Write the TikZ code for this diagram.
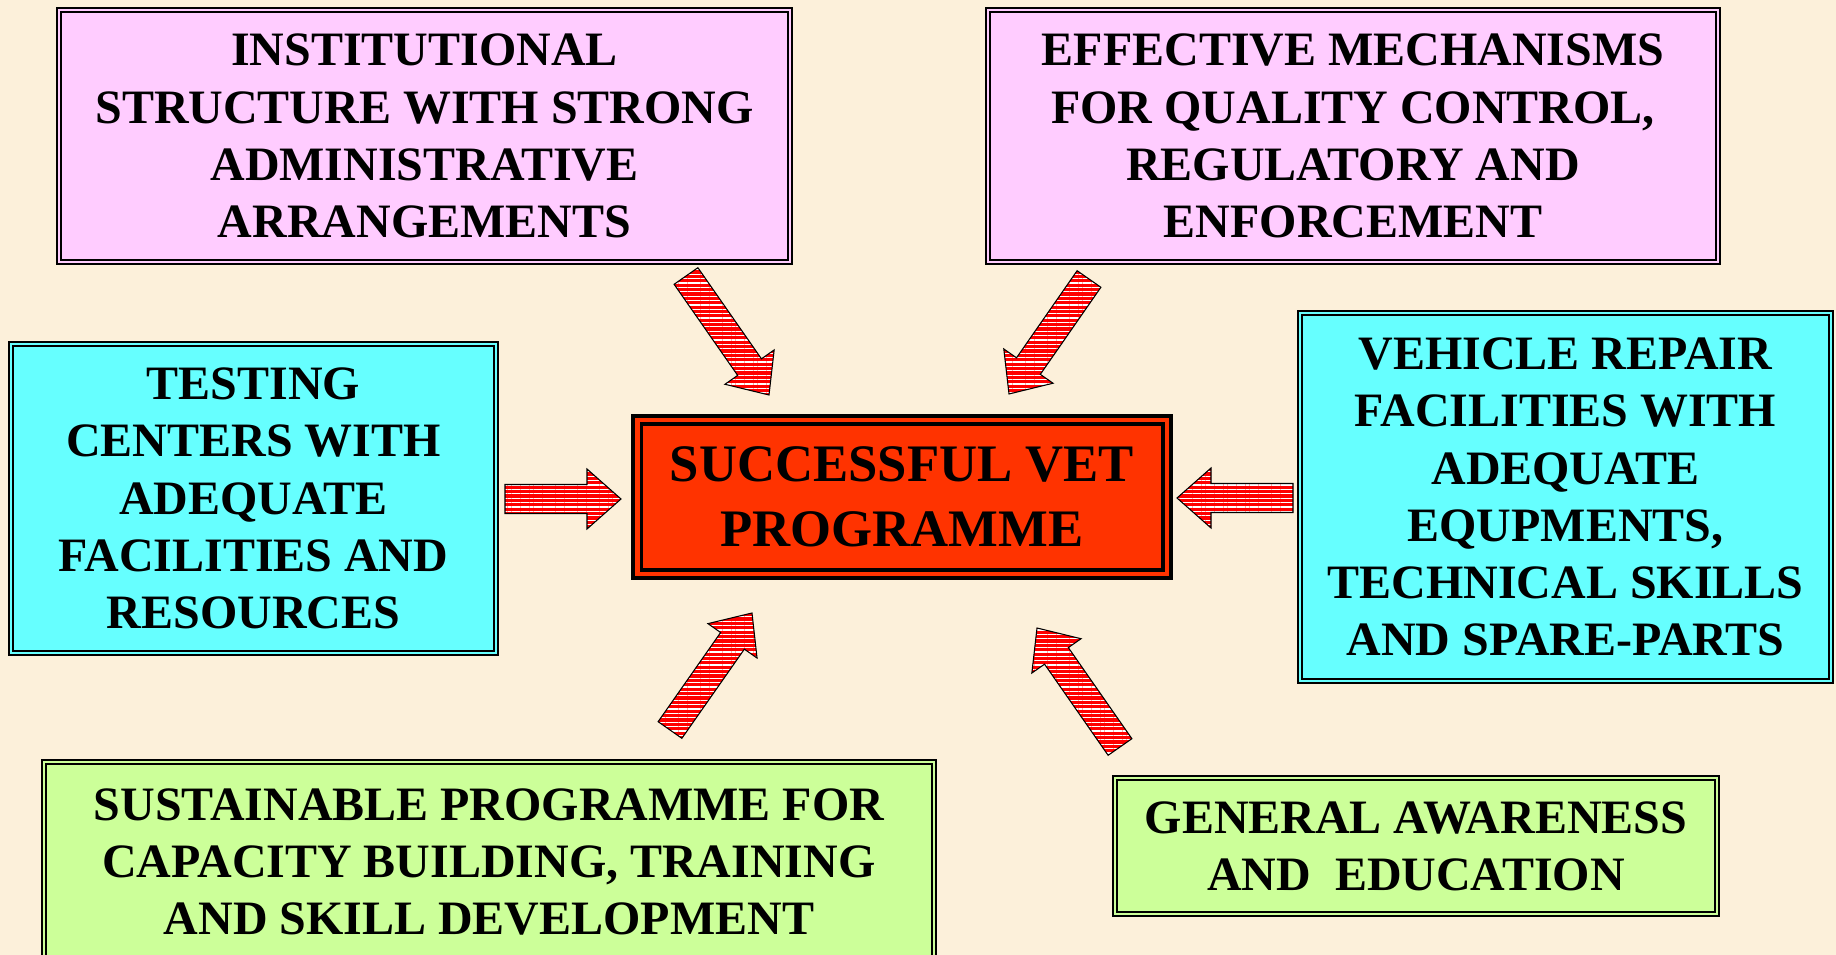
\documentclass[tikz,border=0pt]{standalone}
\usepackage{fontspec}
\setmainfont{Liberation Serif}
\usetikzlibrary{calc,patterns.meta}

\definecolor{paper}{HTML}{FCF0DA}
\definecolor{lilac}{HTML}{FFCCFF}
\definecolor{aqua}{HTML}{66FFFF}
\definecolor{lime}{HTML}{CCFF99}
\definecolor{vermilion}{HTML}{FF3300}
\definecolor{arrowred}{HTML}{FF0000}

% striped block arrow from #1 (tail) to #2 (tip)
\newcommand\fatarrow[2]{%
  \coordinate (neck) at ($(#2)!0.68cm!(#1)$);
  \draw[stripes] ($(#1)!0.29cm!90:(#2)$) -- ($(neck)!0.29cm!90:(#2)$)
    -- ($(neck)!0.6cm!90:(#2)$) -- (#2) -- ($(neck)!0.6cm!-90:(#2)$)
    -- ($(neck)!0.29cm!-90:(#2)$) -- ($(#1)!0.29cm!-90:(#2)$) -- cycle;}

\begin{document}
\begin{tikzpicture}[x=0.02cm, y=-0.02cm,
    panel/.style={rectangle, fill=#1, double=#1, draw=black, line width=0.9pt,
      double distance=1.5pt, align=center, inner sep=0pt,
      font=\bfseries\fontsize{27.3}{32.6}\selectfont},
    hub/.style={panel=vermilion, line width=1.9pt, double distance=2.8pt,
      font=\bfseries\fontsize{30}{36.8}\selectfont},
    stripes/.style={draw=black, line width=0.6pt, preaction={fill=arrowred},
      pattern={Lines[angle=0, distance=2.5pt, line width=0.7pt]}, pattern color=white}]
  \useasboundingbox[fill=paper] (0,0) rectangle (1836,955);

  \node[hub, minimum width=10.6cm, minimum height=3.08cm] (vet) at (902,497)
    {SUCCESSFUL VET\\PROGRAMME};

  \node[panel=lilac, minimum width=14.62cm, minimum height=5.04cm] (inst) at (424.5,136)
    {INSTITUTIONAL\\STRUCTURE WITH STRONG\\ADMINISTRATIVE\\ARRANGEMENTS};
  \node[panel=lilac, minimum width=14.6cm, minimum height=5.04cm] (qual) at (1353,136)
    {EFFECTIVE MECHANISMS\\FOR QUALITY CONTROL,\\REGULATORY AND\\ENFORCEMENT};
  \node[panel=aqua, minimum width=9.7cm, minimum height=6.18cm] (test) at (253.5,498.5)
    {TESTING\\CENTERS WITH\\ADEQUATE\\FACILITIES AND\\RESOURCES};
  \node[panel=aqua, minimum width=10.62cm, minimum height=7.36cm] (repair) at (1565.5,497)
    {VEHICLE REPAIR\\FACILITIES WITH\\ADEQUATE\\EQUPMENTS,\\TECHNICAL SKILLS\\AND SPARE-PARTS};
  \node[panel=lime, minimum width=17.8cm, minimum height=4cm] (train) at (489,862)
    {SUSTAINABLE PROGRAMME FOR\\CAPACITY BUILDING, TRAINING\\AND SKILL DEVELOPMENT};
  \node[panel=lime, minimum width=12.04cm, minimum height=2.72cm] (aware) at (1416,846)
    {GENERAL AWARENESS\\AND\ \ EDUCATION};

  % arrow ends
  \coordinate (inst tail) at (686,276);    \coordinate (inst tip) at (769,395);
  \coordinate (qual tail) at (1089,279);   \coordinate (qual tip) at (1009,394);
  \coordinate (test tail) at (505,499);    \coordinate (test tip) at (621,499);
  \coordinate (repair tail) at (1293,498); \coordinate (repair tip) at (1177,498);
  \coordinate (train tail) at (670,730);   \coordinate (train tip) at (752,613);
  \coordinate (aware tail) at (1120,747);  \coordinate (aware tip) at (1037,628);

  \foreach \src in {inst,qual,test,repair,train,aware}
    \fatarrow{\src\space tail}{\src\space tip};
\end{tikzpicture}
\end{document}
